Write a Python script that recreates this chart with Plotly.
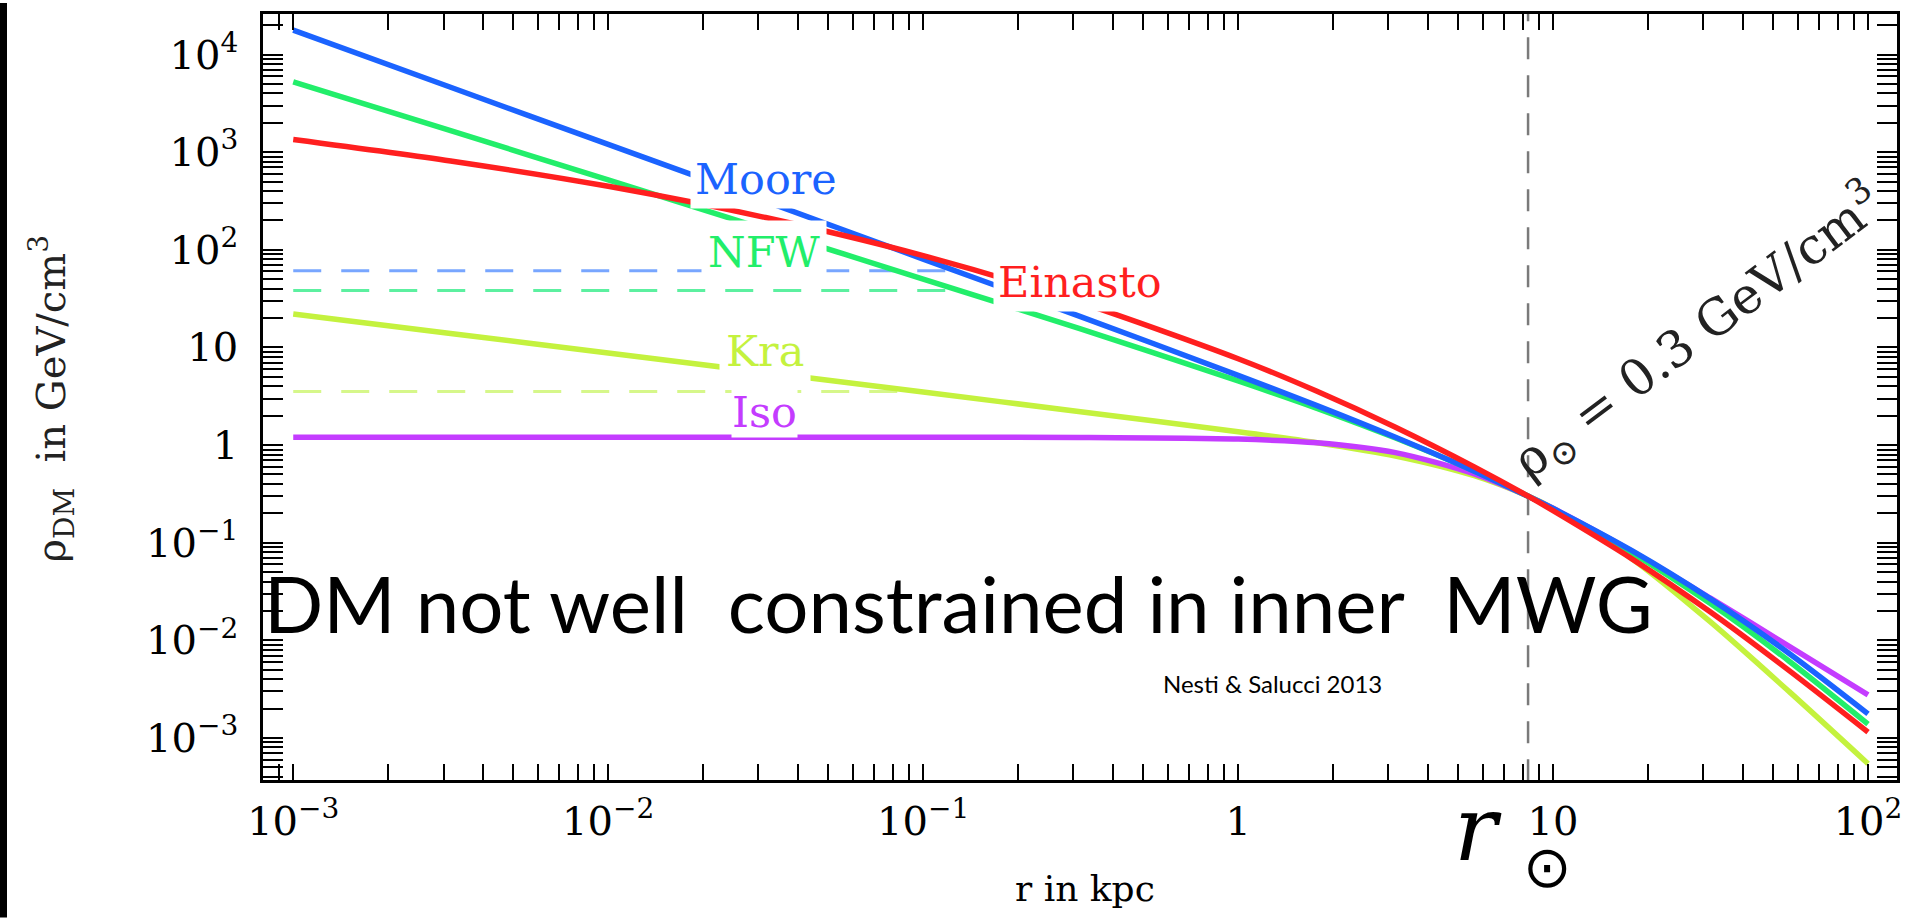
import plotly.graph_objects as go

# ---------------- data ----------------
r_kpc = [0.001, 0.00316, 0.01, 0.0316, 0.1, 0.316, 1.0, 1.78, 3.16, 5.62,
         8.33, 10.0, 17.8, 31.6, 56.2, 100.0]
rho_moore = [1.78e4, 4.62e3, 1.20e3, 313, 80.4, 20.7, 5.18, 2.535, 1.202, 0.541,
             0.300, 0.224, 0.0828, 0.0266, 0.00735, 0.00177]
rho_nfw = [5.25e3, 1.66e3, 519, 162, 50.1, 15.5, 4.54, 2.377, 1.180, 0.542,
           0.300, 0.222, 0.0789, 0.0238, 0.00612, 0.00139]
rho_einasto = [1349, 813, 447, 214, 87.1, 28.8, 7.67, 3.556, 1.524, 0.598,
               0.300, 0.213, 0.0684, 0.0195, 0.0049, 0.00115]
rho_kra = [22.0, 13.9, 8.77, 5.53, 3.49, 2.198, 1.371, 1.059, 0.774, 0.486,
           0.300, 0.2244, 0.0687, 0.01545, 0.002985, 0.000546]
rho_iso = [1.202, 1.202, 1.202, 1.202, 1.202, 1.197, 1.152, 1.057, 0.838, 0.507,
           0.300, 0.2252, 0.0817, 0.0271, 0.00869, 0.00277]

# cored (dashed) variants
core_moore_r = [0.001, 0.13]
core_moore_rho = [61.1, 61.1]
core_nfw_r = [0.001, 0.13]
core_nfw_rho = [38.2, 38.2]
core_kra_r = [0.001, 0.095]
core_kra_rho = [3.53, 3.53]

r_sun = 8.33

x_tick_vals = [1e-3, 1e-2, 1e-1, 1, 10, 100]
x_tick_text = ["10<sup>−3</sup>", "10<sup>−2</sup>", "10<sup>−1</sup>", "1", "10", "10<sup>2</sup>"]
y_tick_vals = [1e-3, 1e-2, 1e-1, 1, 10, 100, 1e3, 1e4]
y_tick_text = ["10<sup>−3</sup>", "10<sup>−2</sup>", "10<sup>−1</sup>", "1", "10",
               "10<sup>2</sup>", "10<sup>3</sup>", "10<sup>4</sup>"]

# ---------------- style ----------------
C_MOORE = "#1b63ff"
C_NFW = "#22ee6a"
C_EIN = "#ff1f1f"
C_KRA = "#c4f23e"
C_ISO = "#c43cff"

W, H = 1915, 918
ML, MR, MT, MB = 263, 18, 11, 138
PW, PH = W - ML - MR, H - MT - MB


def xp(px):
    return (px - ML) / PW


def yp(py):
    return (H - MB - py) / PH


fig = go.Figure()

for xr, yr, col in [(core_moore_r, core_moore_rho, "#78a6ff"),
                    (core_nfw_r, core_nfw_rho, "#5cf0a0"),
                    (core_kra_r, core_kra_rho, "#d6f78a")]:
    fig.add_trace(go.Scatter(x=xr, y=yr, mode="lines",
                             line=dict(color=col, width=3, dash="28px,20px"),
                             hoverinfo="skip"))

fig.add_trace(go.Scatter(x=[r_sun, r_sun], y=[1e-5, 1e6], mode="lines",
                         line=dict(color="#7a7a7a", width=2.5, dash="22px,16px"),
                         hoverinfo="skip"))

for yv, col in [(rho_kra, C_KRA), (rho_iso, C_ISO), (rho_nfw, C_NFW),
                (rho_moore, C_MOORE), (rho_einasto, C_EIN)]:
    fig.add_trace(go.Scatter(x=r_kpc, y=yv, mode="lines",
                             line=dict(color=col, width=5.5, shape="spline", smoothing=0.8)))

minor_x = [k * 10.0 ** e for e in range(-4, 3) for k in range(2, 10)]
minor_y = [k * 10.0 ** e for e in range(-4, 5) for k in range(2, 10)]

axis_common = dict(type="log", showline=True, linecolor="black", linewidth=2.5,
                   mirror="ticks", ticks="inside", tickwidth=2, tickcolor="black",
                   showgrid=False, zeroline=False,
                   tickfont=dict(family="DejaVu Serif", size=40, color="black"))

fig.update_xaxes(range=[-3.096, 2.092], tickvals=x_tick_vals, ticktext=x_tick_text,
                 ticklen=16, ticklabelstandoff=4,
                 minor=dict(tickvals=minor_x, ticks="inside", ticklen=16, tickwidth=2,
                            tickcolor="black"),
                 **axis_common)
fig.update_yaxes(range=[-3.43, 4.415], tickvals=y_tick_vals, ticktext=y_tick_text,
                 ticklen=20, ticklabelstandoff=14,
                 minor=dict(tickvals=minor_y, ticks="inside", ticklen=20, tickwidth=2,
                            tickcolor="black"),
                 **axis_common)

ann = []


def label(text, px, py, color, size, family="DejaVu Serif", angle=0, bg=None, pad=3):
    d = dict(text=text, x=xp(px), y=yp(py), xref="paper", yref="paper",
             showarrow=False, xanchor="center", yanchor="middle",
             font=dict(family=family, size=size, color=color), textangle=angle,
             borderpad=pad)
    if bg:
        d["bgcolor"] = bg
    ann.append(d)


label("Moore", 766, 177, C_MOORE, 43, bg="white", pad=4)
label("NFW", 764, 250, C_NFW, 43, bg="white", pad=6)
label("Einasto", 1080, 280, C_EIN, 43, bg="white", pad=4)
label("Kra", 765, 349, C_KRA, 43, bg="white", pad=6)
label("Iso", 764, 411, C_ISO, 43, bg="white", pad=0)

label("DM not well\u00a0\u00a0constrained in inner\u00a0\u00a0MWG", 958, 602, "black", 78,
      family="Lato")
label("Nesti &amp; Salucci 2013", 1272, 683, "black", 24, family="Lato")
label("r in kpc", 1085, 889, "black", 36)
label("ρ<sub>DM</sub>\u00a0 in GeV/cm<sup>3</sup>", 52, 397, "#222222", 40, angle=-90)
label("ρ<sub>⊙</sub> = 0.3 GeV/cm<sup>3</sup>", 1698, 330, "#222222", 50, angle=-37)
label("<i>r</i>", 1478, 829, "black", 90)
label("⊙", 1547, 867, "black", 58, family="DejaVu Sans")

fig.update_layout(
    width=W, height=H,
    margin=dict(l=ML, r=MR, t=MT, b=MB),
    paper_bgcolor="white", plot_bgcolor="white",
    showlegend=False,
    font=dict(family="DejaVu Serif"),
    annotations=ann,
    shapes=[dict(type="rect", xref="paper", yref="paper",
                 x0=xp(0), x1=xp(7), y0=yp(H), y1=yp(0),
                 fillcolor="black", line=dict(width=0), layer="above")],
)

fig.write_html("out.html")
